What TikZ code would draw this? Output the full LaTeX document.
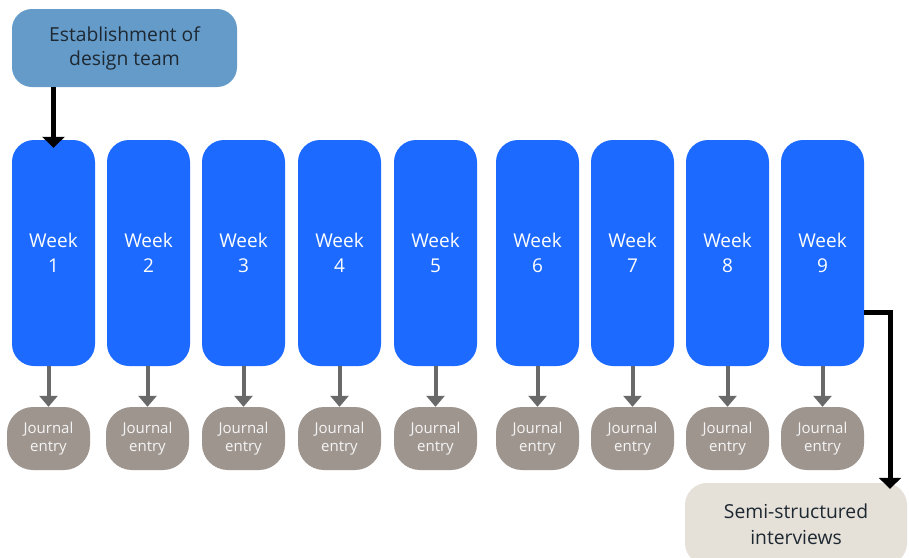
\documentclass[tikz,border=0pt]{standalone}
\usepackage{fontspec}
\setmainfont{Open Sans}
\usetikzlibrary{arrows.meta}
\definecolor{weekblue}{RGB}{28,106,255}
\definecolor{teamblue}{RGB}{100,155,200}
\definecolor{entrygrey}{RGB}{158,149,142}
\definecolor{arrowgrey}{RGB}{105,105,105}
\definecolor{semibeige}{RGB}{229,224,216}
\definecolor{inkdark}{RGB}{30,40,50}
\tikzset{
    weekbox/.style={rectangle, rounded corners=22pt, fill=weekblue, text=white, minimum width=83pt, minimum height=226pt, align=center, font=\fontsize{19}{25}\selectfont},
    entrybox/.style={rectangle, rounded corners=26pt, fill=entrygrey, text=white!90!entrygrey, minimum width=83pt, minimum height=63pt, align=center, font=\fontsize{15}{18}\selectfont},
    teambox/.style={rectangle, rounded corners=20pt, fill=teamblue, text=inkdark, minimum width=225pt, minimum height=78pt, align=center, font=\fontsize{19.3}{24}\selectfont},
    semibox/.style={rectangle, rounded corners=22pt, fill=semibeige, text=inkdark, minimum width=222pt, minimum height=82pt, align=center, font=\fontsize{19.3}{26}\selectfont},
    greyarrow/.style={draw=arrowgrey, line width=4pt, -{Triangle[width=18pt,length=11pt]}},
    blackarrow/.style={draw=black, line width=5pt, -{Triangle[width=22pt,length=11pt]}}
}
\begin{document}
\begin{tikzpicture}[x=1pt,y=-1pt]
    \useasboundingbox[fill=white] (0,0) rectangle (909,557);

    \node[teambox] (team) at (124.5,48) {Establishment of\\design team};
    \node[semibox] (semi) at (796,524) {Semi-structured\\interviews};

    \foreach \i/\x/\jx in {1/53.5/48.5,2/148.5/147.5,3/243.5/243.5,4/339.5/339.5,5/435.5/435.5,6/537.5/537.5,7/632.5/632.5,8/727.5/727.5,9/822.5/822.5} {
        \node[weekbox] (week_\i) at (\x,253) {Week\\\i};
        \node[entrybox] (je_\i) at (\jx,438.5) {Journal\\entry};
        \draw[greyarrow] (je_\i.north |- week_\i.south) -- (je_\i.north);
    }

    \draw[blackarrow] (week_1.north |- team.south) -- ([yshift=-8pt]week_1.north);
    \draw[blackarrow] ([yshift=-59pt]week_9.east) -| ([xshift=94pt,yshift=-6pt]semi.north);
\end{tikzpicture}
\end{document}
